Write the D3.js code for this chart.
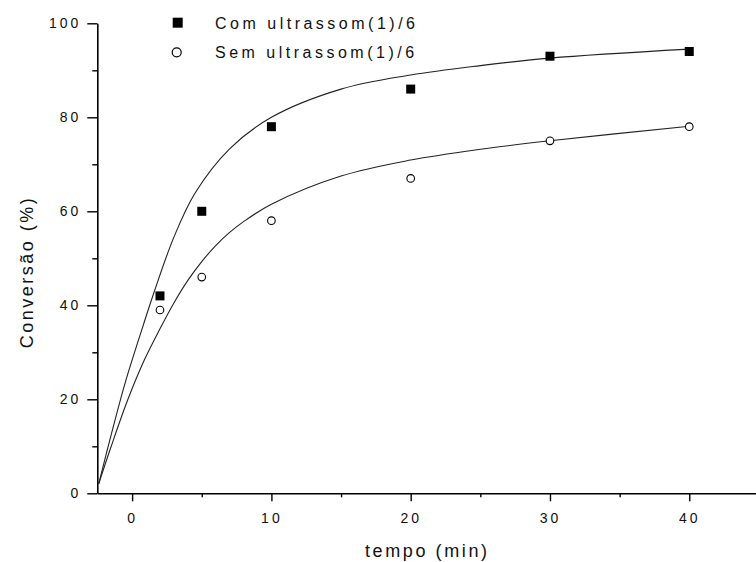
<!DOCTYPE html>
<html><head><meta charset="utf-8">
<script src="https://cdn.jsdelivr.net/npm/d3@7"></script>
<style>
body{margin:0;background:#fff}
svg{display:block;font-family:"Liberation Sans",Arial,sans-serif}
</style></head><body>
<svg id="chart" width="756" height="562"></svg>
<script>
// Axis ticks
const xTicks = [0, 10, 20, 30, 40];
const xMinor = [5, 15, 25, 35];
const yTicks = [0, 20, 40, 60, 80, 100];
const yMinor = [10, 30, 50, 70, 90];

// Measured conversion (%) vs time (min)
const tempo = [2, 5, 10, 20, 30, 40];
const comUltrassom = [42, 60, 78, 86, 93, 94];
const semUltrassom = [39, 46, 58, 67, 75, 78];

// Fitted kinetic curves
const fitTempoCom = [-2.4, -1.5, -0.5, 0.5, 1.6, 3, 4.5, 7, 10, 15, 20, 25, 30, 40];
const fitCom      = [2, 12.5, 23.5, 33, 43, 54.5, 63.8, 73.3, 80, 86, 89, 91, 92.6, 94.5];
const fitTempoSem = [-2.4, -1.5, -0.3, 0.9, 2, 3, 4, 5, 6, 7, 8, 10, 15, 20, 25, 30, 40];
const fitSem      = [2, 10, 20, 28.5, 35, 40.5, 45.3, 49.3, 52.7, 55.5, 57.8, 61.5, 67.5, 70.9, 73.2, 75, 78.1];

const legendLabels = ["Com ultrassom(1)/6", "Sem ultrassom(1)/6"];

const svg = d3.select("#chart");
const x = d3.scaleLinear().domain([-2.5, 45]).range([97.3, 758.9]);
const y = d3.scaleLinear().domain([0, 100]).range([493.3, 23.3]);

const tickFont = "14px";

// X axis
const gx = svg.append("g").attr("transform", `translate(0,${y(0)})`);
gx.call(d3.axisBottom(x).tickValues(xTicks).tickSize(8).tickSizeOuter(0).tickPadding(12));
gx.append("g").call(d3.axisBottom(x).tickValues(xMinor).tickSize(4).tickFormat("").tickSizeOuter(0))
  .select(".domain").remove();

// Y axis
const gy = svg.append("g").attr("transform", `translate(${x(-2.5)},0)`);
gy.call(d3.axisLeft(y).tickValues(yTicks).tickSize(10).tickSizeOuter(0).tickPadding(6));
gy.append("g").call(d3.axisLeft(y).tickValues(yMinor).tickSize(5).tickFormat("").tickSizeOuter(0))
  .select(".domain").remove();

svg.selectAll(".domain").attr("stroke", "#000").attr("stroke-width", 1.6);
svg.selectAll(".tick line").attr("stroke", "#000").attr("stroke-width", 1.4);
svg.selectAll(".tick text")
  .attr("font-family", "Liberation Sans, Arial, sans-serif")
  .attr("font-size", tickFont).attr("fill", "#111")
  .style("letter-spacing", "3px");

// Fitted curves
const line = d3.line().x(d => x(d[0])).y(d => y(d[1])).curve(d3.curveCatmullRom.alpha(0.5));
[[fitTempoCom, fitCom], [fitTempoSem, fitSem]].forEach(([tx, ty]) => {
  svg.append("path")
    .datum(tx.map((t, i) => [t, ty[i]]))
    .attr("d", line)
    .attr("fill", "none").attr("stroke", "#222").attr("stroke-width", 1.1);
});

// Data markers
const sq = 9;
svg.append("g").selectAll("rect").data(tempo.map((t, i) => [t, comUltrassom[i]])).join("rect")
  .attr("x", d => x(d[0]) - sq / 2).attr("y", d => y(d[1]) - sq / 2)
  .attr("width", sq).attr("height", sq).attr("fill", "#000");
svg.append("g").selectAll("circle").data(tempo.map((t, i) => [t, semUltrassom[i]])).join("circle")
  .attr("cx", d => x(d[0])).attr("cy", d => y(d[1])).attr("r", 3.8)
  .attr("fill", "#fff").attr("stroke", "#000").attr("stroke-width", 1.1);

// Legend
const lg = svg.append("g");
lg.append("rect").attr("x", 177.7 - 5).attr("y", 22.7 - 5).attr("width", 10).attr("height", 10).attr("fill", "#000");
lg.append("circle").attr("cx", 176.7).attr("cy", 52.3).attr("r", 4.5)
  .attr("fill", "#fff").attr("stroke", "#000").attr("stroke-width", 1.2);
legendLabels.forEach((t, i) => {
  lg.append("text").attr("x", 215).attr("y", 28.5 + i * 29)
    .attr("font-size", "16px").attr("fill", "#111").style("letter-spacing", "3.5px").text(t);
});

// Axis titles
svg.append("text").attr("x", 426 + 1.3).attr("y", 557)
  .attr("text-anchor", "middle").attr("font-size", "18px").attr("fill", "#111")
  .style("letter-spacing", "2.6px").text("tempo (min)");
svg.append("text").attr("transform", "translate(33,272) rotate(-90)")
  .attr("text-anchor", "middle").attr("font-size", "18px").attr("fill", "#111")
  .style("letter-spacing", "2.5px").text("Conversão (%)");
</script>
</body></html>
